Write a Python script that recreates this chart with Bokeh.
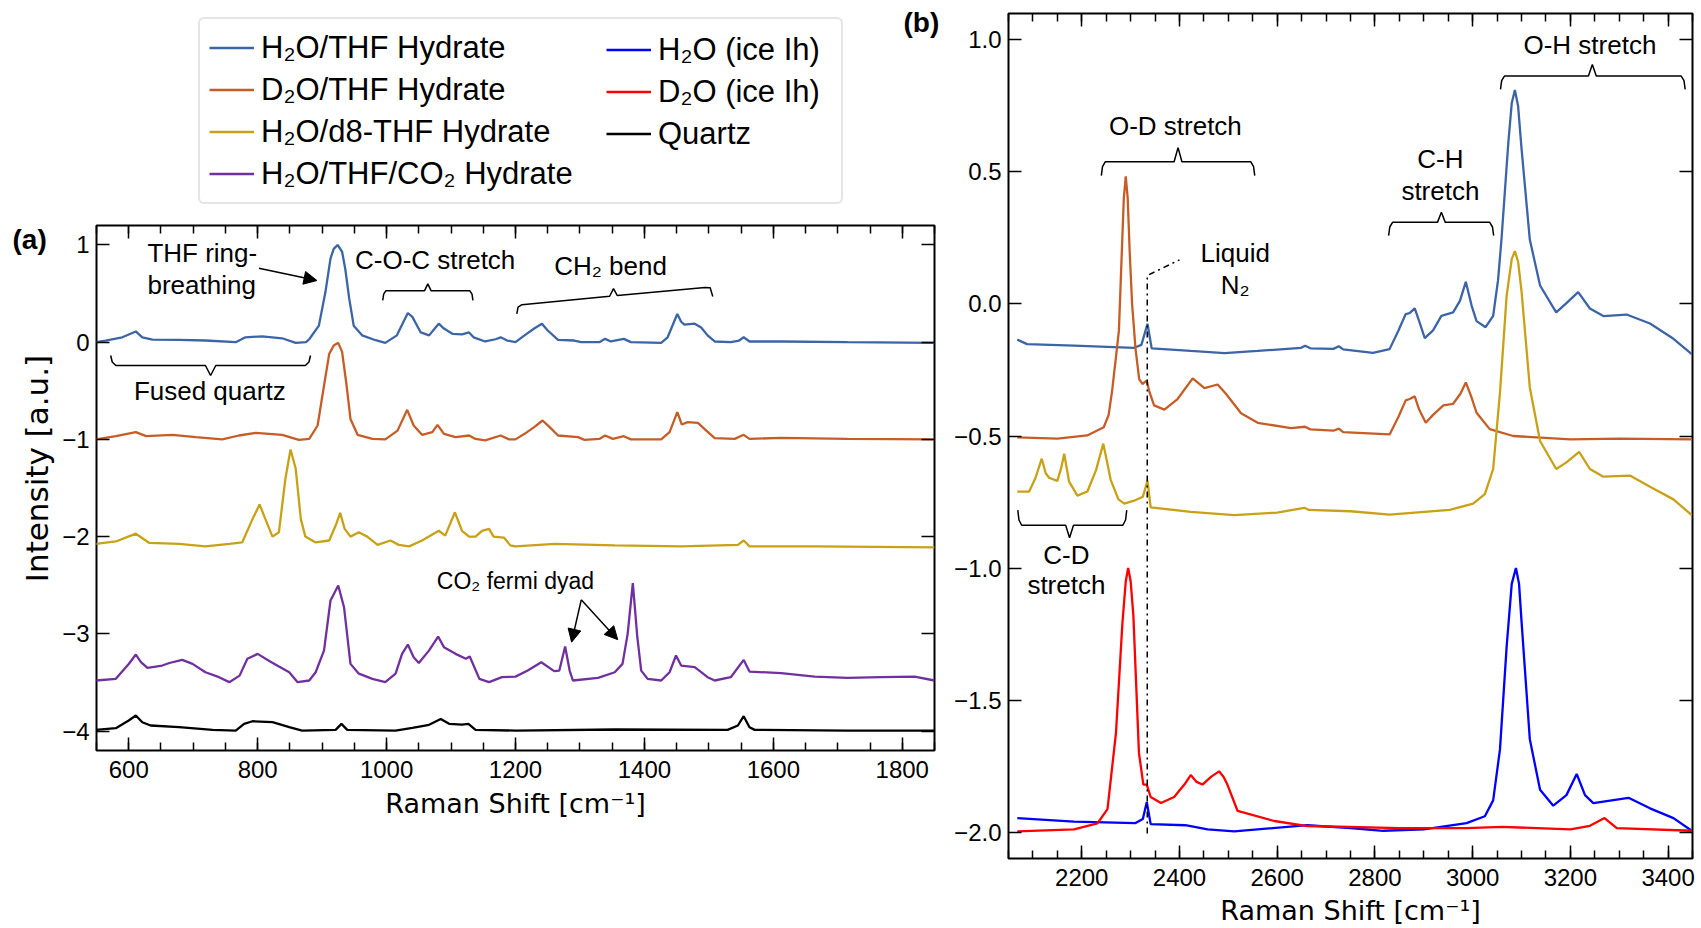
import math
from bokeh.plotting import figure
from bokeh.models import (Range1d, LinearAxis, FixedTicker, Legend, LegendItem, Label,
                          Arrow, NormalHead, CustomJSTickFormatter)
from bokeh.layouts import row, column
from bokeh.embed import file_html
from bokeh.resources import INLINE

FONT = "Liberation Sans"
TITLE_FONT = "DejaVu Sans"

# ---------------- panel (a) data: Raman shift (cm-1) / offset intensity ----------------
a_h2o_thf_x = [549, 564, 590, 611, 621, 637, 678, 719, 766, 781, 807, 838, 859, 875, 880, 895, 905, 913,
               918, 924, 931, 936, 942, 949, 962, 983, 998, 1016, 1027, 1033, 1040, 1053, 1066, 1076,
               1081, 1089, 1102, 1117, 1128, 1135, 1153, 1169, 1177, 1187, 1200, 1214, 1229, 1241, 1250,
               1266, 1291, 1302, 1330, 1339, 1348, 1368, 1379, 1426, 1436, 1446, 1451, 1457, 1462, 1478,
               1488, 1498, 1509, 1534, 1547, 1554, 1563, 1612, 1715, 1850]
a_h2o_thf_y = [0.0, 0.017, 0.05, 0.11, 0.05, 0.027, 0.024, 0.017, 0.0, 0.05, 0.06, 0.04, -0.007, 0.0, 0.03,
               0.17, 0.51, 0.86, 0.96, 1.0, 0.93, 0.75, 0.45, 0.17, 0.07, 0.02, -0.007, 0.07, 0.22, 0.30,
               0.26, 0.10, 0.07, 0.15, 0.19, 0.14, 0.086, 0.08, 0.10, 0.05, 0.007, 0.03, 0.05, 0.017, 0.0,
               0.07, 0.14, 0.19, 0.12, 0.024, 0.017, 0.0, 0.0, 0.034, 0.007, 0.034, 0.0, -0.007, 0.05,
               0.21, 0.29, 0.21, 0.18, 0.19, 0.15, 0.07, 0.007, 0.0, 0.017, 0.05, 0.007, 0.007, 0.0, -0.007]

a_d2o_thf_x = [549, 580, 611, 627, 668, 704, 745, 771, 797, 838, 864, 880, 893, 903, 911, 918, 925, 931,
               938, 944, 955, 978, 998, 1017, 1032, 1042, 1055, 1071, 1079, 1089, 1107, 1128, 1138, 1153,
               1177, 1190, 1200, 1214, 1229, 1242, 1253, 1266, 1297, 1307, 1330, 1339, 1351, 1368, 1379,
               1426, 1439, 1451, 1458, 1467, 1483, 1496, 1509, 1540, 1554, 1563, 1612, 1715, 1850]
a_d2o_thf_y = [-1.0, -0.967, -0.926, -0.967, -0.953, -0.977, -1.0, -0.96, -0.933, -0.953, -1.005, -0.995,
               -0.857, -0.446, -0.12, -0.034, -0.007, -0.10, -0.446, -0.79, -0.953, -0.995, -1.0, -0.91,
               -0.696, -0.857, -0.953, -0.926, -0.85, -0.943, -0.977, -0.96, -0.995, -1.01, -0.96, -1.0,
               -1.0, -0.943, -0.874, -0.806, -0.874, -0.96, -0.977, -1.005, -0.995, -0.96, -0.995, -0.967,
               -1.0, -1.0, -0.926, -0.72, -0.847, -0.823, -0.83, -0.909, -0.988, -0.995, -0.953, -0.995,
               -0.984, -0.995, -1.0]

a_h2o_d8_x = [549, 580, 611, 632, 678, 719, 756, 776, 792, 803, 812, 823, 833, 843, 851, 859, 867, 874,
              890, 911, 921, 928, 935, 944, 957, 970, 986, 1006, 1019, 1035, 1055, 1081, 1091, 1106, 1117,
              1128, 1138, 1148, 1159, 1166, 1182, 1192, 1200, 1261, 1354, 1457, 1545, 1554, 1563, 1664, 1850]
a_h2o_d8_y = [-2.075, -2.05, -1.97, -2.065, -2.075, -2.10, -2.075, -2.06, -1.82, -1.67, -1.82, -2.0,
              -1.955, -1.406, -1.104, -1.30, -1.82, -2.0, -2.06, -2.04, -1.886, -1.756, -1.92, -2.0,
              -1.955, -2.0, -2.085, -2.04, -2.085, -2.10, -2.04, -1.94, -1.99, -1.75, -1.94, -2.0, -2.0,
              -1.94, -1.92, -2.0, -2.01, -2.09, -2.10, -2.075, -2.09, -2.10, -2.085, -2.04, -2.10, -2.10,
              -2.11]

a_co2_x = [549, 580, 600, 611, 619, 629, 652, 663, 683, 699, 719, 740, 756, 772, 784, 800, 818, 833, 849,
           862, 880, 890, 903, 913, 925, 934, 944, 957, 978, 998, 1014, 1024, 1033, 1042, 1050, 1066, 1080,
           1089, 1107, 1123, 1129, 1144, 1159, 1179, 1200, 1219, 1240, 1260, 1268, 1277, 1284, 1289, 1328,
           1354, 1366, 1374, 1382, 1389, 1395, 1405, 1426, 1439, 1449, 1457, 1478, 1498, 1509, 1534, 1554,
           1563, 1612, 1664, 1715, 1767, 1819, 1850]
a_co2_y = [-3.48, -3.463, -3.31, -3.213, -3.29, -3.35, -3.326, -3.30, -3.268, -3.309, -3.395, -3.446,
           -3.497, -3.43, -3.257, -3.206, -3.28, -3.336, -3.395, -3.497, -3.48, -3.395, -3.17, -2.657,
           -2.503, -2.726, -3.309, -3.41, -3.463, -3.497, -3.41, -3.206, -3.11, -3.24, -3.30, -3.17,
           -3.028, -3.137, -3.206, -3.257, -3.233, -3.463, -3.497, -3.446, -3.44, -3.378, -3.292, -3.384,
           -3.378, -3.13, -3.378, -3.48, -3.453, -3.395, -3.309, -3.0, -2.479, -3.035, -3.378, -3.463,
           -3.48, -3.395, -3.223, -3.326, -3.343, -3.446, -3.48, -3.446, -3.268, -3.388, -3.405, -3.44,
           -3.453, -3.446, -3.44, -3.48]

a_quartz_x = [549, 580, 600, 611, 621, 634, 678, 730, 766, 779, 792, 823, 849, 869, 921, 930, 939, 1014,
              1040, 1066, 1084, 1097, 1117, 1127, 1138, 1200, 1354, 1529, 1545, 1554, 1563, 1571, 1715, 1850]
a_quartz_y = [-3.988, -3.97, -3.892, -3.84, -3.909, -3.943, -3.96, -3.988, -3.995, -3.926, -3.899, -3.909,
              -3.96, -3.995, -3.988, -3.926, -3.988, -3.995, -3.967, -3.936, -3.875, -3.926, -3.933, -3.926,
              -3.988, -3.995, -3.984, -3.988, -3.943, -3.847, -3.96, -3.988, -3.995, -3.995]

# ---------------- panel (b) data ----------------
b_h2o_thf_x = [2068, 2088, 2184, 2307, 2322, 2334.5, 2343, 2423, 2492, 2560, 2649, 2657, 2668, 2715, 2726,
               2735, 2796, 2830, 2847.5, 2863, 2871, 2881.5, 2890.5, 2902, 2919, 2936, 2960, 2974, 2986,
               2998, 3008, 3026.5, 3042, 3052, 3059, 3073, 3080, 3086.5, 3093, 3100, 3117, 3138, 3171,
               3192, 3216, 3240, 3267.5, 3315, 3363, 3411, 3448.5]
b_h2o_thf_y = [-0.135, -0.152, -0.158, -0.166, -0.155, -0.075, -0.168, -0.178, -0.186, -0.178, -0.166,
               -0.158, -0.168, -0.17, -0.16, -0.172, -0.185, -0.171, -0.103, -0.038, -0.035, -0.017,
               -0.065, -0.129, -0.10, -0.045, -0.032, 0.012, 0.084, -0.007, -0.065, -0.088, -0.045, 0.09,
               0.244, 0.61, 0.76, 0.81, 0.75, 0.59, 0.244, 0.07, -0.032, 0.003, 0.045, -0.017, -0.046,
               -0.04, -0.074, -0.132, -0.19]

b_d2o_thf_x = [2068, 2150, 2211, 2245, 2255, 2262, 2270, 2276, 2282, 2286, 2290, 2294, 2298, 2303, 2310,
               2317.5, 2324, 2333, 2338, 2348, 2369, 2396, 2427, 2451, 2478, 2495, 2526, 2560, 2628, 2657,
               2668, 2715, 2726, 2735, 2830, 2847.5, 2863, 2871, 2881.5, 2890.5, 2904, 2919, 2940, 2960,
               2975, 2986, 2997, 3008, 3035, 3083, 3200, 3300, 3448.5]
b_d2o_thf_y = [-0.505, -0.51, -0.498, -0.467, -0.42, -0.33, -0.2, -0.1, 0.2, 0.40, 0.483, 0.40, 0.2, 0.0,
               -0.17, -0.285, -0.303, -0.29, -0.33, -0.384, -0.40, -0.36, -0.282, -0.319, -0.305, -0.34,
               -0.414, -0.45, -0.47, -0.465, -0.475, -0.48, -0.472, -0.485, -0.494, -0.43, -0.365, -0.36,
               -0.35, -0.40, -0.45, -0.42, -0.384, -0.378, -0.34, -0.297, -0.35, -0.412, -0.474, -0.50,
               -0.513, -0.51, -0.513]

b_h2o_d8_x = [2068, 2092, 2105, 2118, 2126, 2133, 2150, 2158, 2164, 2170, 2174, 2191, 2211.5, 2229, 2244,
              2252, 2259, 2275, 2287, 2307, 2325, 2334.5, 2341, 2423, 2512, 2600, 2655.6, 2665, 2750, 2830,
              2953, 3001, 3025, 3042, 3056, 3069.5, 3080, 3086.5, 3093, 3100, 3117, 3138, 3171, 3192, 3218,
              3240, 3267.5, 3322, 3363, 3411, 3448.5]
b_h2o_d8_y = [-0.711, -0.711, -0.66, -0.586, -0.64, -0.658, -0.67, -0.62, -0.567, -0.63, -0.673, -0.726,
              -0.71, -0.63, -0.529, -0.6, -0.665, -0.74, -0.756, -0.745, -0.73, -0.669, -0.77, -0.787, -0.8,
              -0.79, -0.772, -0.78, -0.785, -0.798, -0.78, -0.756, -0.72, -0.625, -0.335, 0.03, 0.17, 0.20,
              0.16, 0.05, -0.316, -0.519, -0.625, -0.60, -0.56, -0.625, -0.654, -0.65, -0.692, -0.74, -0.8]

b_h2o_ice_x = [2068, 2184, 2310, 2325, 2333, 2341, 2412, 2457.5, 2512, 2662, 2750, 2817, 2900, 2987.5, 3025,
               3042, 3056, 3069.5, 3080, 3088.6, 3095, 3100, 3117, 3138, 3165, 3192, 3213, 3230, 3247, 3319,
               3363, 3411, 3448.5]
b_h2o_ice_y = [-1.947, -1.96, -1.966, -1.95, -1.886, -1.97, -1.974, -1.99, -1.997, -1.974, -1.985, -1.995,
               -1.99, -1.966, -1.94, -1.88, -1.686, -1.30, -1.06, -1.0, -1.06, -1.20, -1.648, -1.84, -1.90,
               -1.86, -1.78, -1.86, -1.89, -1.87, -1.91, -1.947, -1.995]

b_d2o_ice_x = [2068, 2184, 2232, 2252.6, 2270, 2283, 2290, 2295, 2300, 2305.6, 2317, 2326, 2333, 2341, 2362,
               2389, 2410, 2423, 2435, 2447, 2465, 2481, 2490, 2498, 2519, 2594, 2662, 2851, 2987, 3061,
               3200, 3240, 3270, 3295, 3448.5]
b_d2o_ice_y = [-1.997, -1.99, -1.967, -1.913, -1.624, -1.213, -1.05, -1.0, -1.05, -1.18, -1.7, -1.82, -1.82,
               -1.867, -1.89, -1.867, -1.82, -1.784, -1.81, -1.82, -1.79, -1.77, -1.79, -1.82, -1.92, -1.958,
               -1.977, -1.985, -1.985, -1.98, -1.99, -1.976, -1.947, -1.985, -1.995]

legend_col1 = ["H₂O/THF Hydrate", "D₂O/THF Hydrate", "H₂O/d8-THF Hydrate", "H₂O/THF/CO₂ Hydrate"]
legend_col2 = ["H₂O (ice Ih)", "D₂O (ice Ih)", "Quartz"]

a_xticks = [600, 800, 1000, 1200, 1400, 1600, 1800]
a_xminor = list(range(550, 1851, 50))
a_yticks = [-4, -3, -2, -1, 0, 1]
b_xticks = [2200, 2400, 2600, 2800, 3000, 3200, 3400]
b_xminor = list(range(2050, 3451, 50))
b_yticks = [-2.0, -1.5, -1.0, -0.5, 0.0, 0.5, 1.0]

COL = {"h2o_thf": "#3b65a6", "d2o_thf": "#c65d26", "d8": "#c9a116", "co2": "#7030a0",
       "quartz": "#000000", "h2o_ice": "#0000ff", "d2o_ice": "#ff0000"}
LW = 2.3
TICK_FS = "24px"
TITLE_FS = "27px"
ANN_FS = "26px"


def no_align(p):
    if "frame_align" in p.properties():
        p.frame_align = False


def fmt(decimals):
    return CustomJSTickFormatter(code="return (tick < 0 ? '\u2212' : '') + Math.abs(tick).toFixed(%d);" % decimals)


def style_axis(ax, ticks, minor, formatter, labels=True, label_text=None):
    ax.ticker = FixedTicker(ticks=ticks, minor_ticks=minor)
    ax.formatter = formatter
    ax.axis_line_color = None
    ax.major_tick_in = 13
    ax.major_tick_out = 0
    ax.minor_tick_in = 8
    ax.minor_tick_out = 0
    ax.major_tick_line_color = "black"
    ax.minor_tick_line_color = "black"
    ax.major_tick_line_width = 1.5
    ax.minor_tick_line_width = 1.5
    if labels:
        ax.major_label_text_font = FONT
        ax.major_label_text_font_size = TICK_FS
        ax.major_label_text_color = "black"
        if label_text is not None:
            ax.axis_label = label_text
            ax.axis_label_text_font = TITLE_FONT
            ax.axis_label_text_font_size = TITLE_FS
            ax.axis_label_text_font_style = "normal"
            ax.axis_label_text_color = "black"
    else:
        ax.major_label_text_font_size = "0px"
        ax.major_label_standoff = 0


def frame_style(p):
    p.grid.visible = False
    p.outline_line_color = "black"
    p.outline_line_width = 2
    p.background_fill_color = "white"
    p.border_fill_color = "white"


def add_mirrors(p, xt, xm, yt, ym):
    top = LinearAxis()
    style_axis(top, xt, xm, CustomJSTickFormatter(code="return '';"), labels=False)
    p.add_layout(top, "above")
    right = LinearAxis()
    style_axis(right, yt, ym, CustomJSTickFormatter(code="return '';"), labels=False)
    p.add_layout(right, "right")


def brace(xl, xr, xc, y_line, y_tip, y_notch, dx):
    xs = [xl, xl + dx * 0.3, xl + dx, xc - dx, xc, xc + dx, xr - dx, xr - dx * 0.3, xr]
    k = y_line + (y_tip - y_line) * 0.35
    ys = [y_tip, k, y_line, y_line, y_notch, y_line, y_line, k, y_tip]
    return xs, ys


def text(p, x, y, s, align="left", size=ANN_FS, bold=False, baseline="alphabetic", angle=0.0, font=FONT):
    p.add_layout(Label(x=x, y=y, text=s, text_font=font, text_font_size=size, text_align=align,
                       text_baseline=baseline, text_color="black", angle=angle,
                       text_font_style="bold" if bold else "normal"))


def blank(w, h):
    f = figure(frame_width=w, frame_height=h, x_range=Range1d(0, w), y_range=Range1d(h, 0),
               x_axis_type=None, y_axis_type=None, min_border=0,
               output_backend="svg", toolbar_location=None)
    f.outline_line_color = None
    f.grid.visible = False
    f.background_fill_color = "white"
    f.border_fill_color = "white"
    no_align(f)
    return f


# ======================= top strip: legend and (b) label =======================
TOP_H = 223
ft = blank(945, TOP_H)
# legend swatches (hidden copies of the spectra; only their legend glyphs are shown)
sw = {
    "h2o_thf": ft.line(a_h2o_thf_x, a_h2o_thf_y, line_color=COL["h2o_thf"], line_width=LW, visible=False),
    "d2o_thf": ft.line(a_d2o_thf_x, a_d2o_thf_y, line_color=COL["d2o_thf"], line_width=LW, visible=False),
    "d8": ft.line(a_h2o_d8_x, a_h2o_d8_y, line_color=COL["d8"], line_width=LW, visible=False),
    "co2": ft.line(a_co2_x, a_co2_y, line_color=COL["co2"], line_width=LW, visible=False),
    "h2o_ice": ft.line(b_h2o_ice_x, b_h2o_ice_y, line_color=COL["h2o_ice"], line_width=LW, visible=False),
    "d2o_ice": ft.line(b_d2o_ice_x, b_d2o_ice_y, line_color=COL["d2o_ice"], line_width=LW, visible=False),
    "quartz": ft.line(a_quartz_x, a_quartz_y, line_color=COL["quartz"], line_width=LW, visible=False),
}
LEG_FS = "31px"
PAD, ROW_H, SP = 9, 39, 3
LEG_TOP = 21
H1 = 2 * PAD + 4 * ROW_H + 3 * SP
H2 = 3 * ROW_H + 2 * SP
common = dict(spacing=SP, glyph_width=45, glyph_height=ROW_H, label_height=ROW_H, label_standoff=7,
              label_text_font=FONT, label_text_font_size=LEG_FS, label_text_color="black",
              inactive_fill_alpha=0.0)
leg1 = Legend(items=[LegendItem(label=s, renderers=[sw[k]]) for s, k in
                     zip(legend_col1, ["h2o_thf", "d2o_thf", "d8", "co2"])],
              location=(198, TOP_H - LEG_TOP - H1), label_width=641 - 2 * PAD - 52, padding=PAD,
              border_line_color="#cccccc", border_line_width=2, background_fill_color="white",
              background_fill_alpha=1.0, **common)
if "border_radius" in leg1.properties():
    leg1.border_radius = 6
leg2 = Legend(items=[LegendItem(label=s, renderers=[sw[k]]) for s, k in
                     zip(legend_col2, ["h2o_ice", "d2o_ice", "quartz"])],
              location=(606, TOP_H - (LEG_TOP + PAD + H2)), label_width=170, padding=0,
              border_line_color=None, background_fill_alpha=0.0, **common)
ft.add_layout(leg1, "center")
ft.add_layout(leg2, "center")
text(ft, 903, 22, "(b)", size="28px", bold=True)

# ======================= left strip: (a) label and y title =======================
LEFT_W = 55
PA_H = 928 - TOP_H
fl = blank(LEFT_W, PA_H)
text(fl, 12, 16, "(a)", size="28px", bold=True)
text(fl, 36, 468 - TOP_H, "Intensity [a.u.]", align="center", size="31px", baseline="middle",
     angle=math.pi / 2, font=TITLE_FONT)

# ======================= panel (a) =======================
pa = figure(frame_width=838, frame_height=525, x_range=Range1d(550, 1850), y_range=Range1d(-4.2, 1.2),
            min_border_left=96 - LEFT_W, min_border_right=11, min_border_top=225 - TOP_H,
            min_border_bottom=178, output_backend="svg", toolbar_location=None)
no_align(pa)
frame_style(pa)
style_axis(pa.xaxis[0], a_xticks, a_xminor, fmt(0), label_text="Raman Shift [cm⁻¹]")
style_axis(pa.yaxis[0], a_yticks, [], fmt(0))
pa.xaxis[0].major_label_standoff = 10
pa.xaxis[0].axis_label_standoff = 7
pa.yaxis[0].major_label_standoff = 7
add_mirrors(pa, a_xticks, a_xminor, a_yticks, [])

pa.line(a_h2o_thf_x, a_h2o_thf_y, line_color=COL["h2o_thf"], line_width=LW)
pa.line(a_d2o_thf_x, a_d2o_thf_y, line_color=COL["d2o_thf"], line_width=LW)
pa.line(a_h2o_d8_x, a_h2o_d8_y, line_color=COL["d8"], line_width=LW)
pa.line(a_co2_x, a_co2_y, line_color=COL["co2"], line_width=LW)
pa.line(a_quartz_x, a_quartz_y, line_color=COL["quartz"], line_width=LW)

DA = 0.10  # text baseline correction, panel (a) units
text(pa, 629, 0.816 + DA, "THF ring-")
text(pa, 629, 0.49 + DA, "breathing")
pa.add_layout(Arrow(end=NormalHead(size=13, fill_color="black", line_color="black"),
                    x_start=802, y_start=0.76, x_end=892, y_end=0.634, line_width=1.5))
text(pa, 951, 0.75 + DA, "C-O-C stretch")
bx, by = brace(994, 1134, 1064, 0.53, 0.43, 0.60, 5)
pa.line(bx, by, line_color="black", line_width=1.5)
text(pa, 1260, 0.686 + DA, "CH₂ bend")
pa.line([1202, 1204, 1210, 1346, 1352, 1358, 1494, 1502, 1506],
        [0.29, 0.36, 0.386, 0.472, 0.55, 0.479, 0.563, 0.56, 0.47], line_color="black", line_width=1.5)
bx, by = brace(572, 882, 727, -0.24, -0.137, -0.343, 8)
pa.line(bx, by, line_color="black", line_width=1.5)
text(pa, 608, -0.60 + DA, "Fused quartz")
text(pa, 1078, -2.554 + DA, "CO₂ fermi dyad", size="23px")
for xe, ye in [(1287, -3.086), (1358.6, -3.06)]:
    pa.add_layout(Arrow(end=NormalHead(size=13, fill_color="black", line_color="black"),
                        x_start=1302, y_start=-2.65, x_end=xe, y_end=ye, line_width=1.5))

# ======================= panel (b) =======================
pb = figure(frame_width=684, frame_height=845, x_range=Range1d(2050, 3450), y_range=Range1d(-2.1, 1.1),
            min_border_left=63, min_border_right=9, min_border_top=13, min_border_bottom=70,
            output_backend="svg", toolbar_location=None)
no_align(pb)
frame_style(pb)
style_axis(pb.xaxis[0], b_xticks, b_xminor, fmt(0), label_text="Raman Shift [cm⁻¹]")
style_axis(pb.yaxis[0], b_yticks, [], fmt(1))
pb.xaxis[0].major_label_standoff = 10
pb.xaxis[0].axis_label_standoff = 6
pb.yaxis[0].major_label_standoff = 7
add_mirrors(pb, b_xticks, b_xminor, b_yticks, [])

pb.line(b_h2o_thf_x, b_h2o_thf_y, line_color=COL["h2o_thf"], line_width=LW)
pb.line(b_d2o_thf_x, b_d2o_thf_y, line_color=COL["d2o_thf"], line_width=LW)
pb.line(b_h2o_d8_x, b_h2o_d8_y, line_color=COL["d8"], line_width=LW)
pb.line(b_h2o_ice_x, b_h2o_ice_y, line_color=COL["h2o_ice"], line_width=LW)
pb.line(b_d2o_ice_x, b_d2o_ice_y, line_color=COL["d2o_ice"], line_width=LW)

DB = 0.037  # text baseline correction, panel (b) units
text(pb, 2255.5, 0.637 + DB, "O-D stretch")
bx, by = brace(2240, 2554, 2397, 0.5385, 0.486, 0.592, 8)
pb.line(bx, by, line_color="black", line_width=1.5)
text(pb, 2934, 0.511 + DB, "C-H", align="center")
text(pb, 2934, 0.391 + DB, "stretch", align="center")
bx, by = brace(2828, 3043, 2936, 0.309, 0.259, 0.347, 8)
pb.line(bx, by, line_color="black", line_width=1.5)
text(pb, 3104, 0.945 + DB, "O-H stretch")
bx, by = brace(3057, 3435, 3245, 0.863, 0.813, 0.907, 8)
pb.line(bx, by, line_color="black", line_width=1.5)
text(pb, 2514, 0.156 + DB, "Liquid", align="center")
text(pb, 2514, 0.033 + DB, "N₂", align="center")
pb.line([2334, 2334, 2400], [-2.005, 0.108, 0.167], line_color="black", line_width=1.5,
        line_dash="6 4 2 4")
text(pb, 2168.5, -0.986 + DB, "C-D", align="center")
text(pb, 2168.5, -1.103 + DB, "stretch", align="center")
bx, by = brace(2069, 2292, 2175, -0.838, -0.781, -0.885, 8)
pb.line(bx, by, line_color="black", line_width=1.5)

layout = row(column(ft, row(fl, pa, spacing=0), spacing=0), pb, spacing=0)
open("out.html", "w").write(file_html(layout, INLINE))
